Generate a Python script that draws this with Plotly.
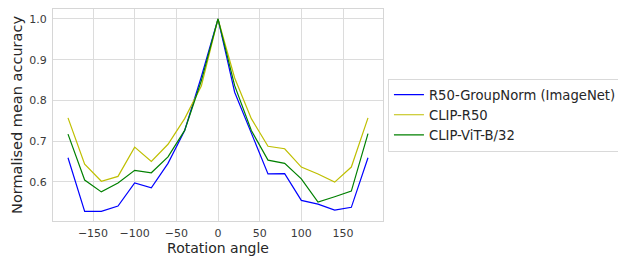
import plotly.graph_objects as go

angles = [-180, -160, -140, -120, -100, -80, -60, -40, -20, 0, 20, 40, 60, 80, 100, 120, 140, 160, 180]
r50_groupnorm = [0.659, 0.527, 0.527, 0.540, 0.597, 0.585, 0.645, 0.726, 0.858, 1.0,
                 0.820, 0.718, 0.619, 0.620, 0.554, 0.545, 0.530, 0.537, 0.659]
clip_r50 = [0.757, 0.643, 0.601, 0.613, 0.685, 0.650, 0.692, 0.755, 0.835, 1.0,
            0.855, 0.755, 0.687, 0.681, 0.636, 0.619, 0.599, 0.636, 0.757]
clip_vit = [0.717, 0.604, 0.575, 0.597, 0.628, 0.622, 0.661, 0.726, 0.848, 1.0,
            0.836, 0.726, 0.653, 0.645, 0.607, 0.550, 0.563, 0.577, 0.718]

series_names = ["R50-GroupNorm (ImageNet)", "CLIP-R50", "CLIP-ViT-B/32"]
series_colors = ["#0000ff", "#bfbf00", "#008000"]

x_tickvals = [-150, -100, -50, 0, 50, 100, 150]
x_ticktext = ["\u2212150", "\u2212100", "\u221250", "0", "50", "100", "150"]
y_tickvals = [0.6, 0.7, 0.8, 0.9, 1.0]
y_ticktext = ["0.6", "0.7", "0.8", "0.9", "1.0"]

fig = go.Figure()
for name, vals, col in zip(series_names, [r50_groupnorm, clip_r50, clip_vit], series_colors):
    fig.add_trace(go.Scatter(x=angles, y=vals, mode="lines", name=name,
                             line=dict(color=col, width=1.2)))

font_family = "DejaVu Sans"
# the page body has an 8px default margin, so the figure is 8px smaller
fig.update_layout(
    width=618, height=248,
    margin=dict(l=45, r=243, t=1, b=35, autoexpand=False),
    paper_bgcolor="white", plot_bgcolor="white",
    font=dict(family=font_family, color="#262626"),
    showlegend=True,
    legend=dict(x=1.015, y=0.50, xanchor="left", yanchor="middle",
                bordercolor="#d9d9d9", borderwidth=1,
                font=dict(size=13.2, family=font_family, color="#262626"),
                tracegroupgap=0, itemwidth=30, bgcolor="white"),
)
fig.update_xaxes(range=[-198, 198], tickvals=x_tickvals, ticktext=x_ticktext,
                 showgrid=True, gridcolor="#dcdcdc", gridwidth=1,
                 showline=True, linecolor="#d6d6d6", linewidth=1, mirror=True,
                 zeroline=False, ticks="", ticklabelstandoff=2,
                 tickfont=dict(size=11, color="#3a3a3a"),
                 title=dict(text="Rotation angle", font=dict(size=14, color="#262626"), standoff=6))
fig.update_yaxes(range=[0.5034, 1.0245], tickvals=y_tickvals, ticktext=y_ticktext,
                 showgrid=True, gridcolor="#dcdcdc", gridwidth=1,
                 showline=True, linecolor="#d6d6d6", linewidth=1, mirror=True,
                 zeroline=False, ticks="", ticklabelstandoff=3,
                 tickfont=dict(size=11, color="#3a3a3a"),
                 title=dict(text="Normalised mean accuracy", font=dict(size=14.5, color="#262626"), standoff=3))

fig.write_html("out.html")
